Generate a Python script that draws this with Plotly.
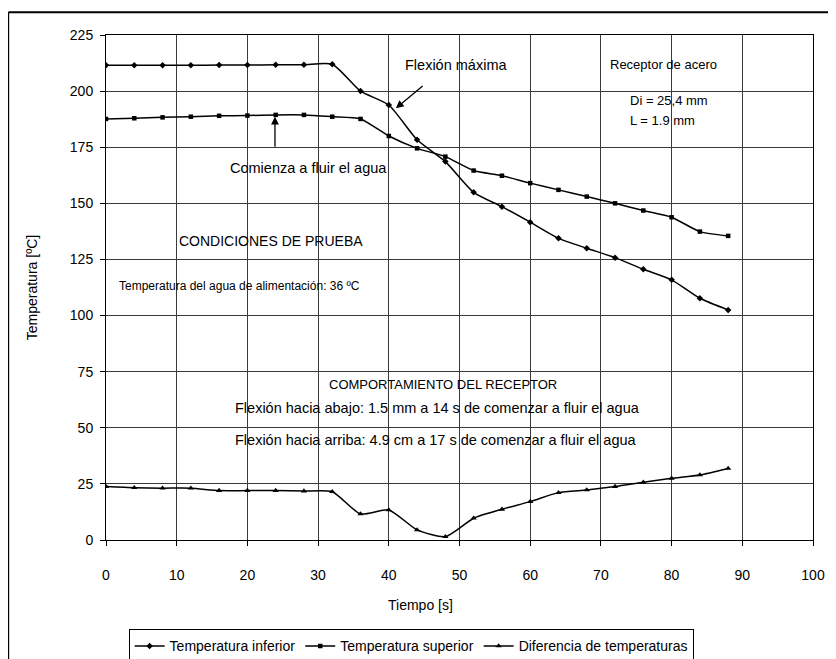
import plotly.graph_objects as go

tiempo = [0, 4, 8, 12, 16, 20, 24, 28, 32, 36, 40, 44, 48, 52, 56, 60, 64, 68, 72, 76, 80, 84, 88]
temp_inferior = [211.5, 211.5, 211.5, 211.5, 211.6, 211.6, 211.7, 211.8, 212.0, 200.0, 193.8, 178.3, 168.6,
                 154.9, 148.5, 141.6, 134.4, 130.0, 125.8, 120.6, 115.9, 107.7, 102.5]
temp_superior = [187.6, 187.9, 188.3, 188.6, 189.0, 189.1, 189.4, 189.4, 188.6, 187.6, 180.0, 174.5, 170.8,
                 164.6, 162.3, 159.0, 156.0, 153.0, 150.0, 146.8, 143.8, 137.4, 135.5]
diferencia = [23.8, 23.3, 23.1, 23.1, 22.0, 22.0, 22.0, 21.8, 21.5, 11.6, 13.4, 4.5, 1.5,
              9.7, 13.7, 17.1, 21.1, 22.3, 23.8, 25.7, 27.5, 29.0, 31.9]

FONT = "Liberation Sans, Arial, sans-serif"

fig = go.Figure()
fig.add_trace(go.Scatter(x=tiempo, y=temp_inferior, name="Temperatura inferior", mode="lines+markers",
                         line=dict(color="black", width=1.5, shape="spline", smoothing=0.6),
                         marker=dict(symbol="diamond", size=5, color="black")))
fig.add_trace(go.Scatter(x=tiempo, y=temp_superior, name="Temperatura superior", mode="lines+markers",
                         line=dict(color="black", width=1.5, shape="spline", smoothing=0.6),
                         marker=dict(symbol="square", size=4.5, color="black")))
fig.add_trace(go.Scatter(x=tiempo, y=diferencia, name="Diferencia de temperaturas", mode="lines+markers",
                         line=dict(color="black", width=1.5, shape="spline", smoothing=0.6),
                         marker=dict(symbol="triangle-up", size=5.5, color="black")))

def txt(x, y, s, anchor="left", size=14.5):
    fig.add_annotation(x=x, y=y, xref="x", yref="y", text=s, showarrow=False,
                       xanchor=anchor, yanchor="middle", font=dict(family=FONT, size=size, color="black"))

txt(49.5, 211.7, "Flexión máxima", "center")
txt(78.9, 211.7, "Receptor de acero", "center", 13)
txt(73.8, 196.0, "Di = 25,4 mm", "left", 13)
txt(73.9, 186.7, "L = 1.9 mm", "left", 13)
txt(17.2, 165.8, "Comienza a fluir el agua")
txt(10.1, 133.2, "CONDICIONES DE PRUEBA", "left", 14)
txt(1.6, 113.2, "Temperatura del agua de alimentación: 36 ºC", "left", 12)
txt(31.3, 69.5, "COMPORTAMIENTO DEL RECEPTOR", "left", 13)
txt(17.9, 58.8, "Flexión hacia abajo: 1.5 mm a 14 s de comenzar a fluir el agua")
txt(17.9, 44.6, "Flexión hacia arriba: 4.9 cm a 17 s de comenzar a fluir el agua")

# arrows
fig.add_annotation(x=41.0, y=192.4, ax=45.0, ay=202.8, xref="x", yref="y", axref="x", ayref="y",
                   text="", showarrow=True, arrowhead=2, arrowsize=1.2, arrowwidth=1.3, arrowcolor="black")
fig.add_annotation(x=23.9, y=188.6, ax=23.9, ay=174.5, xref="x", yref="y", axref="x", ayref="y",
                   text="", showarrow=True, arrowhead=2, arrowsize=1.2, arrowwidth=1.3, arrowcolor="black")

# x-axis title
fig.add_annotation(x=44.5, y=-0.129, xref="x", yref="paper", text="Tiempo [s]", showarrow=False,
                   font=dict(family=FONT, size=14, color="black"), yanchor="middle")

# outer frame lines
fig.add_shape(type="line", xref="paper", yref="paper", x0=-0.138, x1=1.04, y0=1.045, y1=1.045,
              line=dict(color="black", width=2))
fig.add_shape(type="line", xref="paper", yref="paper", x0=-0.138, x1=-0.138, y0=1.045, y1=-0.25,
              line=dict(color="black", width=1.5))

fig.update_layout(
    width=828, height=651,
    margin=dict(l=97.5, r=22.5, t=27, b=119, autoexpand=False),
    paper_bgcolor="white", plot_bgcolor="white",
    font=dict(family=FONT, size=14, color="black"),
    showlegend=True,
    legend=dict(orientation="h", x=0.032, xanchor="left", y=-0.177, yanchor="top",
                bordercolor="black", borderwidth=1, font=dict(family=FONT, size=14, color="black"),
                itemwidth=30, tracegroupgap=0),
    xaxis=dict(range=[0, 100], dtick=10, showgrid=True, gridcolor="#3a3a3a", gridwidth=1,
               showline=True, linecolor="black", linewidth=1, mirror=True, automargin=False,
               ticks="outside", ticklen=5, tickcolor="black", ticklabelstandoff=17,
               tickfont=dict(family=FONT, size=14, color="black"), zeroline=False),
    yaxis=dict(range=[0, 225], dtick=25, showgrid=True, gridcolor="#3a3a3a", gridwidth=1,
               showline=True, linecolor="black", linewidth=1, mirror=True, automargin=False,
               ticks="outside", ticklen=5, tickcolor="black", ticklabelstandoff=4,
               tickfont=dict(family=FONT, size=14, color="black"), zeroline=False,
               title=dict(text="Temperatura [ºC]", standoff=28, font=dict(family=FONT, size=14, color="black"))),
)

fig.write_html("out.html")
